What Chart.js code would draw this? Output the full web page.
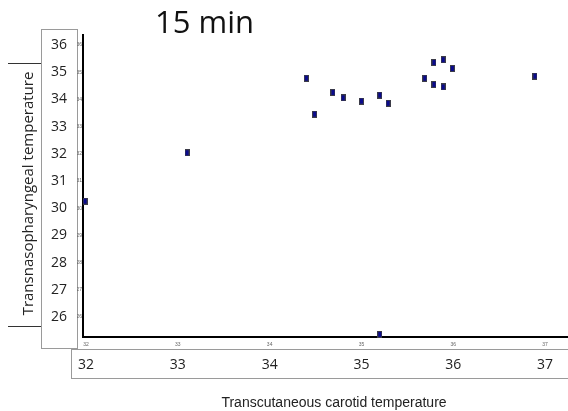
<!DOCTYPE html>
<html><head><meta charset="utf-8">
<script src="https://cdn.jsdelivr.net/npm/chart.js@4.4.1/dist/chart.umd.min.js"></script>
<style>html,body{margin:0;padding:0;background:#fff;overflow:hidden}canvas{display:block}</style>
</head><body>
<canvas id="c" width="568" height="411"></canvas>
<script>
// ---- data ----
const chartTitle = '15 min';
const xAxisTitle = 'Transcutaneous carotid temperature';
const yAxisTitle = 'Transnasopharyngeal temperature';
const xTickLabels = [32, 33, 34, 35, 36, 37];
const yTickLabels = [26, 27, 28, 29, 30, 31, 32, 33, 34, 35, 36];
const carotidTemp = [31.99, 33.10, 34.40, 34.49, 34.69, 34.80, 35.00, 35.20, 35.29, 35.20, 35.69, 35.79, 35.89, 35.99, 35.79, 35.89, 36.89];
const nasoTemp    = [30.26, 32.04, 34.78, 33.46, 34.26, 34.06, 33.94, 34.16, 33.86, 25.36, 34.78, 35.36, 35.46, 35.14, 34.55, 34.46, 34.86];

// ---- styling / layout ----
const X_MIN = 31.967, X_MAX = 37.25;
const Y_MIN = 25.265, Y_MAX = 36.37;

function makeMarker() {
  const c = document.createElement('canvas');
  c.width = 5; c.height = 7;
  const g = c.getContext('2d');
  g.fillStyle = '#3c3c48'; g.fillRect(0, 0, 5, 7);
  g.fillStyle = '#0a0a8c'; g.fillRect(1, 1, 3, 5);
  return c;
}
const marker = makeMarker();

const points = carotidTemp.map((x, i) => ({ x: x, y: nasoTemp[i] }));

const decorPlugin = {
  id: 'decor',
  beforeDraw(chart) {
    const ctx = chart.ctx;
    const y2 = chart.scales.y2, x2 = chart.scales.x2;
    ctx.save();
    ctx.lineWidth = 1;
    ctx.strokeStyle = '#9a9a9a';
    ctx.fillStyle = '#fff';
    // left label box
    ctx.fillRect(y2.left + 0.5, 29.5, y2.right - y2.left, 319);
    ctx.strokeRect(y2.left + 0.5, 29.5, y2.right - y2.left, 319);
    // bottom label box
    ctx.fillRect(71.5, x2.top + 0.5, 520, x2.bottom - x2.top - 1);
    ctx.strokeRect(71.5, x2.top + 0.5, 520, x2.bottom - x2.top - 1);
    // bracket lines beside the y title
    ctx.strokeStyle = '#333';
    ctx.beginPath();
    ctx.moveTo(8, 63.5); ctx.lineTo(y2.left, 63.5);
    ctx.moveTo(8, 326.5); ctx.lineTo(y2.left, 326.5);
    ctx.stroke();
    ctx.restore();
  },
  afterDraw(chart) {
    const ctx = chart.ctx;
    ctx.save();
    ctx.fillStyle = '#111';
    ctx.font = '31px "Open Sans"';
    ctx.textAlign = 'left';
    ctx.textBaseline = 'alphabetic';
    ctx.fillText(chartTitle, 155, 33);

    ctx.fillStyle = '#222';
    ctx.font = '14px "Liberation Sans"';
    ctx.textAlign = 'center';
    ctx.fillText(xAxisTitle, 334, 407);

    ctx.translate(33, 193.5);
    ctx.rotate(-Math.PI / 2);
    ctx.font = '15px "Open Sans"';
    ctx.fillStyle = '#222';
    ctx.textAlign = 'center';
    ctx.fillText(yAxisTitle, 0, 0);
    ctx.restore();
  }
};

const tinyFont = { family: 'Liberation Sans', size: 5 };
const bigFont = { family: 'Open Sans', size: 14 };
const noPadX = s => { s.paddingLeft = 0; s.paddingRight = 0; };
const noPadY = s => { s.paddingTop = 0; s.paddingBottom = 0; };

new Chart(document.getElementById('c'), {
  type: 'scatter',
  data: {
    datasets: [{
      data: points,
      pointStyle: marker,
      pointRadius: 3,
      pointHoverRadius: 3,
      clip: false
    }]
  },
  options: {
    responsive: false,
    animation: false,
    devicePixelRatio: 1,
    layout: { autoPadding: false, padding: { left: 41, top: 35, right: 0, bottom: 32 } },
    plugins: { legend: { display: false }, tooltip: { enabled: false }, title: { display: false } },
    scales: {
      x: {
        type: 'linear', position: 'bottom', weight: 0,
        min: X_MIN, max: X_MAX,
        grid: { display: false, drawTicks: false },
        border: { display: true, color: '#000', width: 2 },
        afterBuildTicks: s => { s.ticks = xTickLabels.map(v => ({ value: v })); },
        afterFit: s => { s.height = 12; noPadX(s); },
        ticks: { font: tinyFont, color: '#666', padding: 5, maxRotation: 0, autoSkip: false }
      },
      x2: {
        type: 'linear', position: 'bottom', weight: 1,
        min: X_MIN, max: X_MAX,
        grid: { display: false, drawTicks: false },
        border: { display: false },
        afterBuildTicks: s => { s.ticks = xTickLabels.map(v => ({ value: v })); },
        afterFit: s => { s.height = 30; noPadX(s); },
        ticks: { font: bigFont, color: '#222', padding: 8, maxRotation: 0, autoSkip: false }
      },
      y: {
        type: 'linear', position: 'left', weight: 0,
        min: Y_MIN, max: Y_MAX,
        grid: { display: false, drawTicks: false },
        border: { display: true, color: '#000', width: 2 },
        afterBuildTicks: s => { s.ticks = yTickLabels.map(v => ({ value: v })); },
        afterFit: s => { s.width = 6; noPadY(s); },
        ticks: { font: tinyFont, color: '#666', padding: 1, autoSkip: false }
      },
      y2: {
        type: 'linear', position: 'left', weight: 1,
        min: Y_MIN, max: Y_MAX,
        grid: { display: false, drawTicks: false },
        border: { display: false },
        afterBuildTicks: s => { s.ticks = yTickLabels.map(v => ({ value: v })); },
        afterFit: s => { s.width = 36; noPadY(s); },
        ticks: { font: bigFont, color: '#222', padding: 10, autoSkip: false }
      }
    }
  },
  plugins: [decorPlugin]
});
</script>
</body></html>
